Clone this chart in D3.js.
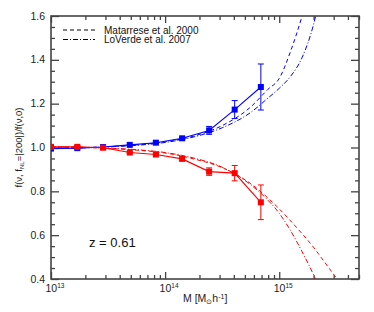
<!DOCTYPE html>
<html><head><meta charset="utf-8">
<script src="https://cdn.jsdelivr.net/npm/d3@7"></script>
<style>
body{margin:0;background:#fff;}
svg{font-family:"Liberation Sans",Arial,sans-serif;}
</style></head>
<body><svg id="c" width="374" height="312"></svg>
<script>
// ---- data ----
const massPoints = [1e13, 1.7e13, 2.86e13, 4.9e13, 8.3e13, 1.41e14, 2.43e14, 4.07e14, 6.9e14];
const bluePoints = [0.995, 0.997, 1.002, 1.012, 1.022, 1.042, 1.078, 1.173, 1.276];
const blueErrors = [0.003, 0.003, 0.003, 0.003, 0.004, 0.005, 0.018, 0.041, 0.105];
const redPoints  = [1.003, 1.003, 0.999, 0.977, 0.968, 0.948, 0.890, 0.883, 0.750];
const redErrors  = [0.003, 0.003, 0.003, 0.004, 0.005, 0.007, 0.017, 0.035, 0.079];

const curveLogM = [13.0, 13.25, 13.5, 13.75, 14.0, 14.25, 14.5, 14.75, 14.9, 15.0, 15.1, 15.2, 15.3, 15.4, 15.5, 15.6];
const blueMatarrese = [0.997, 0.999, 1.004, 1.012, 1.026, 1.052, 1.100, 1.185, 1.265, 1.315, 1.440, 1.600, 1.80, 2.05, 2.35, 2.7];
const blueLoVerde   = [0.996, 0.998, 1.003, 1.010, 1.023, 1.048, 1.090, 1.160, 1.225, 1.270, 1.325, 1.410, 1.560, 1.80, 2.10, 2.4];
const redMatarrese  = [1.003, 1.001, 0.996, 0.988, 0.975, 0.948, 0.908, 0.835, 0.770, 0.720, 0.665, 0.607, 0.545, 0.475, 0.405, 0.33];
const redLoVerde    = [1.003, 1.001, 0.997, 0.990, 0.977, 0.952, 0.910, 0.830, 0.760, 0.700, 0.620, 0.525, 0.420, 0.30, 0.18, 0.05];

const yMajor = [0.4, 0.6, 0.8, 1.0, 1.2, 1.4, 1.6];
const yTickLabels = ["0.4", "0.6", "0.8", "1.0", "1.2", "1.4", "1.6"];
const xMajor = [1e13, 1e14, 1e15];
const xExponents = ["13", "14", "15"];
const legendLabels = ["Matarrese et al. 2000", "LoVerde et al. 2007"];
const annotation = "z = 0.61";

// ---- layout ----
const svg = d3.select("#c");
const L = 51, T = 16, W = 308, H = 263;
const x = d3.scaleLog().domain([1e13, 5e15]).range([L, L + W]);
const y = d3.scaleLinear().domain([0.4, 1.6]).range([T + H, T]);
const axisColor = "#444";

svg.append("defs").append("clipPath").attr("id", "clip")
  .append("rect").attr("x", L).attr("y", T).attr("width", W).attr("height", H);

// minor ticks
const xMinor = [];
[1e13, 1e14, 1e15].forEach(d => { for (let k = 2; k <= 9; k++) { const v = d * k; if (v <= 5e15) xMinor.push(v); } });
const yMinor = d3.range(0.4, 1.6001, 0.05).map(v => +v.toFixed(2)).filter(v => !yMajor.includes(v));

function styleAxis(g) {
  g.select(".domain").remove();
  g.selectAll("line").attr("stroke", axisColor).attr("stroke-width", 1.3);
  g.selectAll("text").remove();
}
// bottom/top
svg.append("g").attr("transform", `translate(0,${T + H})`).call(d3.axisBottom(x).tickValues(xMajor).tickSize(-7).tickFormat("")).call(styleAxis);
svg.append("g").attr("transform", `translate(0,${T + H})`).call(d3.axisBottom(x).tickValues(xMinor).tickSize(-4).tickFormat("")).call(styleAxis);
svg.append("g").attr("transform", `translate(0,${T})`).call(d3.axisTop(x).tickValues(xMajor).tickSize(-7).tickFormat("")).call(styleAxis);
svg.append("g").attr("transform", `translate(0,${T})`).call(d3.axisTop(x).tickValues(xMinor).tickSize(-4).tickFormat("")).call(styleAxis);
// left/right
svg.append("g").attr("transform", `translate(${L},0)`).call(d3.axisLeft(y).tickValues(yMajor).tickSize(-8).tickFormat("")).call(styleAxis);
svg.append("g").attr("transform", `translate(${L},0)`).call(d3.axisLeft(y).tickValues(yMinor).tickSize(-4).tickFormat("")).call(styleAxis);
svg.append("g").attr("transform", `translate(${L + W},0)`).call(d3.axisRight(y).tickValues(yMajor).tickSize(-8).tickFormat("")).call(styleAxis);
svg.append("g").attr("transform", `translate(${L + W},0)`).call(d3.axisRight(y).tickValues(yMinor).tickSize(-4).tickFormat("")).call(styleAxis);

// frame
svg.append("rect").attr("x", L).attr("y", T).attr("width", W).attr("height", H)
  .attr("fill", "none").attr("stroke", axisColor).attr("stroke-width", 1.6);

// y tick labels
svg.append("g").selectAll("text").data(yMajor).join("text")
  .attr("x", L - 6).attr("y", d => y(d) + 3.5).attr("text-anchor", "end")
  .attr("font-size", 10.5).attr("fill", "#222").text((d, i) => yTickLabels[i]);

// x tick labels
const xl = svg.append("g").selectAll("text").data(xMajor).join("text")
  .attr("x", d => x(d) - 5.5).attr("y", T + H + 13).attr("text-anchor", "start")
  .attr("font-size", 10.5).attr("fill", "#222");
xl.append("tspan").text("10");
xl.append("tspan").attr("dy", -4).attr("font-size", 6.5).text((d, i) => xExponents[i]);

// axis titles
const xt = svg.append("text").attr("x", 183).attr("y", 302).attr("font-size", 10.5).attr("fill", "#222");
xt.append("tspan").text("M  [M");
xt.append("tspan").attr("font-size", 7).attr("dy", 2).text("\u2299");
xt.append("tspan").attr("dy", -2).text("h");
xt.append("tspan").attr("font-size", 7).attr("dy", -3.5).text("-1");
xt.append("tspan").attr("dy", 3.5).text("]");

const yt = svg.append("text").attr("transform", `translate(22,${T + H / 2}) rotate(-90)`)
  .attr("text-anchor", "middle").attr("font-size", 9.5).attr("fill", "#222");
yt.append("tspan").text("f(\u03bd, f");
yt.append("tspan").attr("font-size", 6).attr("dy", 2).text("NL");
yt.append("tspan").attr("dy", -2).text("=|200|)/f(\u03bd,0)");

// annotation
svg.append("text").attr("x", 89).attr("y", 247).attr("font-size", 13).attr("fill", "#111").text(annotation);

// ---- curves ----
const plot = svg.append("g").attr("clip-path", "url(#clip)");
const lineC = d3.line().x((d, i) => x(Math.pow(10, curveLogM[i]))).y(d => y(d)).curve(d3.curveMonotoneX);
const dashA = "4,3", dashB = "5,2,1,2";
[[blueMatarrese, "#0000ff", dashA], [blueLoVerde, "#0000ff", dashB],
 [redMatarrese, "#ff0000", dashA], [redLoVerde, "#ff0000", dashB]].forEach(([arr, col, da]) => {
  plot.append("path").attr("d", lineC(arr)).attr("fill", "none").attr("stroke", col)
    .attr("stroke-width", 1).attr("stroke-dasharray", da);
});

// ---- points ----
const lineP = d3.line().x((d, i) => x(massPoints[i])).y(d => y(d));
[[bluePoints, blueErrors, "#0000ff"], [redPoints, redErrors, "#ff0000"]].forEach(([vals, errs, col]) => {
  const g = plot.append("g");
  g.append("path").attr("d", lineP(vals)).attr("fill", "none").attr("stroke", col).attr("stroke-width", 1.1);
  vals.forEach((v, i) => {
    const cx = x(massPoints[i]);
    g.append("line").attr("x1", cx).attr("x2", cx).attr("y1", y(v - errs[i])).attr("y2", y(v + errs[i])).attr("stroke", col).attr("stroke-width", 1);
    [v - errs[i], v + errs[i]].forEach(e => g.append("line").attr("x1", cx - 3).attr("x2", cx + 3).attr("y1", y(e)).attr("y2", y(e)).attr("stroke", col).attr("stroke-width", 1));
    g.append("rect").attr("x", cx - 3).attr("y", y(v) - 3).attr("width", 6).attr("height", 6).attr("fill", col);
  });
});

// ---- legend ----
const leg = svg.append("g");
legendLabels.forEach((t, i) => {
  const ly = 30 + i * 9.5;
  leg.append("line").attr("x1", 63).attr("x2", 95).attr("y1", ly).attr("y2", ly)
    .attr("stroke", "#000").attr("stroke-width", 1).attr("stroke-dasharray", i === 0 ? dashA : dashB);
  leg.append("text").attr("x", 104).attr("y", ly + 3.5).attr("font-size", 10).attr("fill", "#111").text(t);
});
</script></body></html>
